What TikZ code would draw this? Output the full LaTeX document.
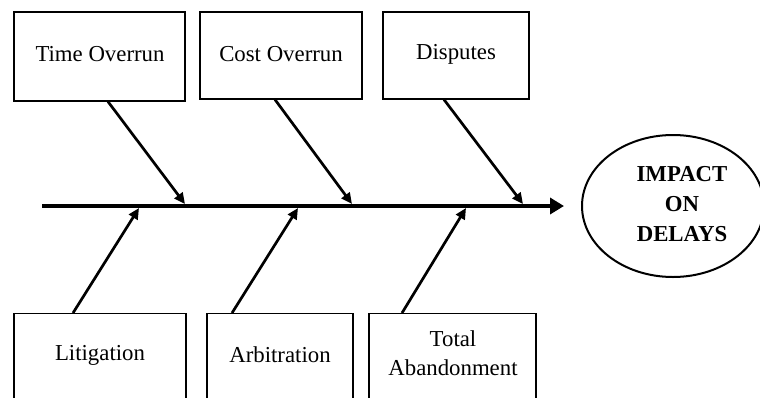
\documentclass[tikz,border=0pt]{standalone}
\usepackage{fontspec}
\setmainfont{Liberation Serif}
\usetikzlibrary{arrows.meta,shapes.geometric}
\begin{document}
\begin{tikzpicture}[x=1pt,y=-1pt,
  box/.style={draw,line width=1.2pt,inner sep=0pt},
  lbl/.style={font=\fontsize{22.8}{26}\selectfont,align=center,inner sep=0pt},
  branch/.style={line width=2.7pt,-{Triangle[length=11pt,width=10pt]}},
  spine/.style={line width=3.8pt,-{Triangle[length=14pt,width=16pt]}}]
\useasboundingbox (0,0) rectangle (760,397);
\clip (0,0) rectangle (760,397);
\fill[white] (0,0) rectangle (760,397);
% top boxes
\node[box,minimum width=171pt,minimum height=89pt] (t1) at (99.5,56.5) {};
\node[lbl] (t1l) at (100,54) {Time Overrun};
\node[box,minimum width=162pt,minimum height=87pt] (t2) at (281,55.5) {};
\node[lbl] (t2l) at (281,54) {Cost Overrun};
\node[box,minimum width=146pt,minimum height=87pt] (t3) at (456,55.5) {};
\node[lbl] (t3l) at (456,54) {Disputes};
% bottom boxes
\node[box,minimum width=172pt,minimum height=120pt,anchor=north] (b1) at (100,313) {};
\node[lbl] (b1l) at (100,355) {Litigation};
\node[box,minimum width=146pt,minimum height=120pt,anchor=north] (b2) at (280,313) {};
\node[lbl] (b2l) at (280,355) {Arbitration};
\node[box,minimum width=167pt,minimum height=120pt,anchor=north] (b3) at (452.5,313) {};
\node[lbl,font=\fontsize{22.8}{29.5}\selectfont] (b3l) at (453,353) {Total\\Abandonment};
% effect
\node[draw,ellipse,line width=2pt,minimum width=182pt,minimum height=142pt,inner sep=0pt] (eff) at (673,206) {};
\node[lbl,font=\bfseries\fontsize{22.8}{30}\selectfont] (effl) at (682,204) {IMPACT\\ON\\DELAYS};
% spine
\coordinate (tail) at (42,206);
\coordinate (head) at (564,206);
\draw[spine] (tail) -- (head);
% spine points
\coordinate (s1) at (185,204);
\coordinate (s2) at (352,204);
\coordinate (s3) at (523,204);
\coordinate (u1) at (139,208);
\coordinate (u2) at (298,208);
\coordinate (u3) at (466,208);
\draw[branch] ([xshift=8.5pt]t1.south) -- (s1);
\draw[branch] ([xshift=-6pt]t2.south) -- (s2);
\draw[branch] ([xshift=-12pt]t3.south) -- (s3);
\draw[branch] ([xshift=-27pt]b1.north) -- (u1);
\draw[branch] ([xshift=-48pt]b2.north) -- (u2);
\draw[branch] ([xshift=-50.5pt]b3.north) -- (u3);
\end{tikzpicture}
\end{document}
